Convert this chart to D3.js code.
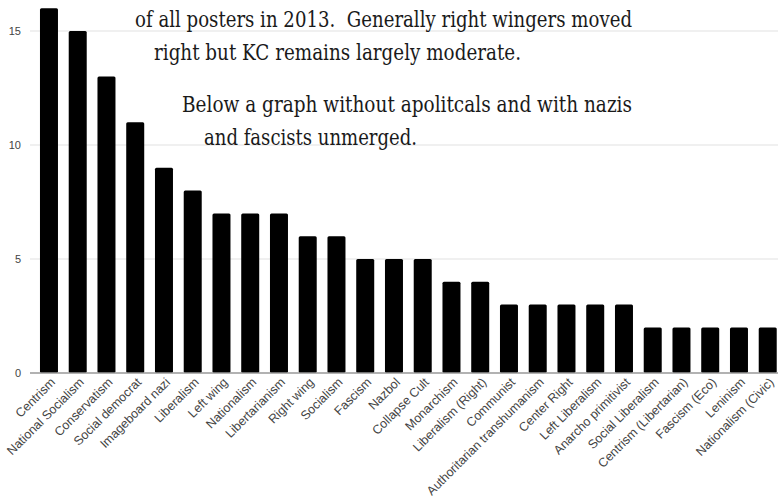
<!DOCTYPE html>
<html lang="en">
<head>
  <meta charset="UTF-8">
  <title>Ideologies</title>
  <style>
    body { margin: 0; background: #fff; overflow: hidden; }
    svg { display: block; }
    .tick-label { font-family: "Liberation Sans", Arial, sans-serif; font-size: 11px; fill: #444; }
    .cat-label { font-family: "Liberation Sans", Arial, sans-serif; font-size: 12.5px; fill: #444; }
    .note { font-family: "DejaVu Serif", serif; font-size: 23px; fill: #1a1a1a; white-space: pre; }
  </style>
</head>
<body>
  <svg id="chart"></svg>

  <script src="https://d3js.org/d3.v7.min.js"></script>
  <script>
    var categories = ["Centrism", "National Socialism", "Conservatism", "Social democrat", "Imageboard nazi",
      "Liberalism", "Left wing", "Nationalism", "Libertarianism", "Right wing", "Socialism", "Fascism",
      "Nazbol", "Collapse Cult", "Monarchism", "Liberalism (Right)", "Communist",
      "Authoritarian transhumanism", "Center Right", "Left Liberalism", "Anarcho primitivist",
      "Social Liberalism", "Centrism (Libertarian)", "Fascism (Eco)", "Leninism", "Nationalism (Civic)"];
    var counts = [16, 15, 13, 11, 9, 8, 7, 7, 7, 6, 6, 5, 5, 5, 4, 4, 3, 3, 3, 3, 3, 2, 2, 2, 2, 2];
    var yTicks = [0, 5, 10, 15];
    var noteLines = [
      "of all posters in 2013.  Generally right wingers moved",
      "right but KC remains largely moderate.",
      "Below a graph without apolitcals and with nazis",
      "and fascists unmerged."
    ];

    var width = 778, height = 500;
    var svg = d3.select("#chart").attr("width", width).attr("height", height);

    // band scale: step ~28.75, bar ~18px, chart runs past the right edge
    var x = d3.scaleBand()
      .domain(categories)
      .range([34.6, 782.1])
      .paddingInner(0.374)
      .paddingOuter(0.187);

    var y = d3.scaleLinear()
      .domain([0, 16])
      .range([373, 8.2]);

    // gridlines
    svg.append("g")
      .selectAll("line")
      .data(yTicks.filter(function (d) { return d > 0; }))
      .enter()
      .append("line")
      .attr("x1", 30).attr("x2", width)
      .attr("y1", function (d) { return y(d); })
      .attr("y2", function (d) { return y(d); })
      .attr("stroke", "#e2e2e2")
      .attr("stroke-width", 1.2);

    // y labels
    svg.append("g")
      .selectAll("text")
      .data(yTicks)
      .enter()
      .append("text")
      .attr("class", "tick-label")
      .attr("x", 21)
      .attr("y", function (d) { return y(d); })
      .attr("dy", "0.35em")
      .attr("text-anchor", "end")
      .text(function (d) { return d; });

    // bars
    svg.append("g")
      .selectAll("rect")
      .data(counts)
      .enter()
      .append("rect")
      .attr("x", function (d, i) { return x(categories[i]); })
      .attr("y", function (d) { return y(d); })
      .attr("width", x.bandwidth())
      .attr("height", function (d) { return y(0) - y(d); })
      .attr("rx", 1.5)
      .attr("fill", "#000");

    // baseline
    svg.append("line")
      .attr("x1", 30).attr("x2", width)
      .attr("y1", y(0)).attr("y2", y(0))
      .attr("stroke", "#999")
      .attr("stroke-width", 1.5);

    // category labels, rotated
    svg.append("g")
      .selectAll("text")
      .data(categories)
      .enter()
      .append("text")
      .attr("class", "cat-label")
      .attr("text-anchor", "end")
      .attr("transform", function (d) {
        var cx = x(d) + x.bandwidth() / 2 + 7;
        return "translate(" + cx + "," + 383 + ") rotate(-45)";
      })
      .text(function (d) { return d; });

    // overlaid note text
    var notePos = [
      { x: 135, y: 27, w: 497 },
      { x: 154, y: 60, w: 367 },
      { x: 182, y: 112, w: 450 },
      { x: 204, y: 145, w: 213 }
    ];
    svg.append("g")
      .selectAll("text")
      .data(noteLines)
      .enter()
      .append("text")
      .attr("class", "note")
      .attr("x", function (d, i) { return notePos[i].x; })
      .attr("y", function (d, i) { return notePos[i].y; })
      .attr("textLength", function (d, i) { return notePos[i].w; })
      .attr("lengthAdjust", "spacingAndGlyphs")
      .text(function (d) { return d; });
  </script>
</body>
</html>
